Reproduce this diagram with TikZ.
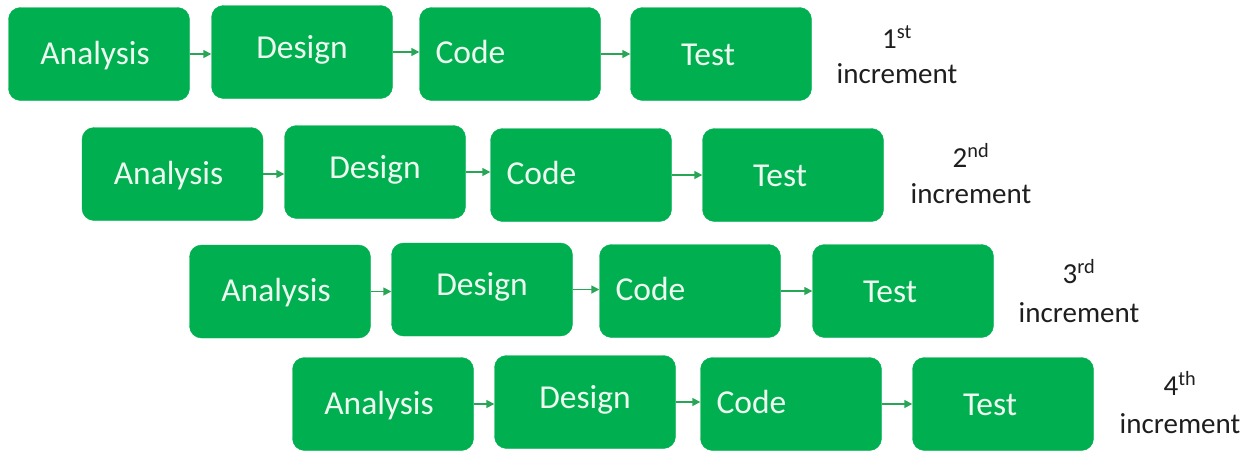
\documentclass[tikz,border=0pt]{standalone}
\usepackage{fontspec}
\setmainfont{Carlito}
\usetikzlibrary{arrows.meta}
\definecolor{boxgreen}{RGB}{0,176,80}
\definecolor{arrgreen}{RGB}{40,165,85}
\definecolor{boxtext}{RGB}{238,250,240}
\definecolor{labtext}{RGB}{30,30,30}
\tikzset{
  stagebox/.style={draw=boxgreen, fill=boxgreen, rounded corners=12pt,
    minimum width=181pt, minimum height=93pt, inner sep=0pt},
  stagetext/.style={text=boxtext, font=\fontsize{33.5}{38}\selectfont, inner sep=0pt},
  labtxt/.style={text=labtext, font=\fontsize{29}{34}\selectfont, inner sep=0pt, anchor=base},
  arr/.style={draw=arrgreen, line width=1.6pt, -{Triangle[length=8pt,width=8pt]}},
}
\begin{document}
\begin{tikzpicture}[x=1pt,y=-1pt]
\useasboundingbox (0,0) rectangle (1252,450);
\foreach \r/\ax/\ay/\dx/\dy/\cx/\cy/\tx/\ty/\lx/\lya/\lyb/\ord in {
  1/99/54/302/52/510/54/721/54/897/48/83/st,
  2/172.5/174/375/172/581/175/793/175/971/167/203/nd,
  3/280/291.5/482/289.5/690/291/903/291/1079/283/322/rd,
  4/383/404/585/402/791/404/1003/404/1180/395/433/th}{
  \node[stagebox] (A\r) at (\ax,\ay) {};
  \node[stagebox] (D\r) at (\dx,\dy) {};
  \node[stagebox] (C\r) at (\cx,\cy) {};
  \node[stagebox] (T\r) at (\tx,\ty) {};
  \node[stagetext, anchor=base] (A\r t) at ([xshift=-4pt,yshift=-10pt]A\r.center) {Analysis};
  \node[stagetext, anchor=base] (D\r t) at ([yshift=-6pt]D\r.center) {Design};
  \node[stagetext, anchor=base west] (C\r t) at ([xshift=16pt,yshift=-9pt]C\r.west) {Code};
  \node[stagetext, anchor=base] (T\r t) at ([xshift=-13pt,yshift=-11pt]T\r.center) {Test};
  \node[labtxt] (N\r) at (\lx,\lya) {\r\textsuperscript{\ord}};
  \node[labtxt] (I\r) at (\lx,\lyb) {increment};
  \draw[arr] (A\r.east) -- (A\r.east -| D\r.west);
  \draw[arr] (D\r.east) -- (D\r.east -| C\r.west);
  \draw[arr] (C\r.east) -- (C\r.east -| T\r.west);
}
\end{tikzpicture}
\end{document}
